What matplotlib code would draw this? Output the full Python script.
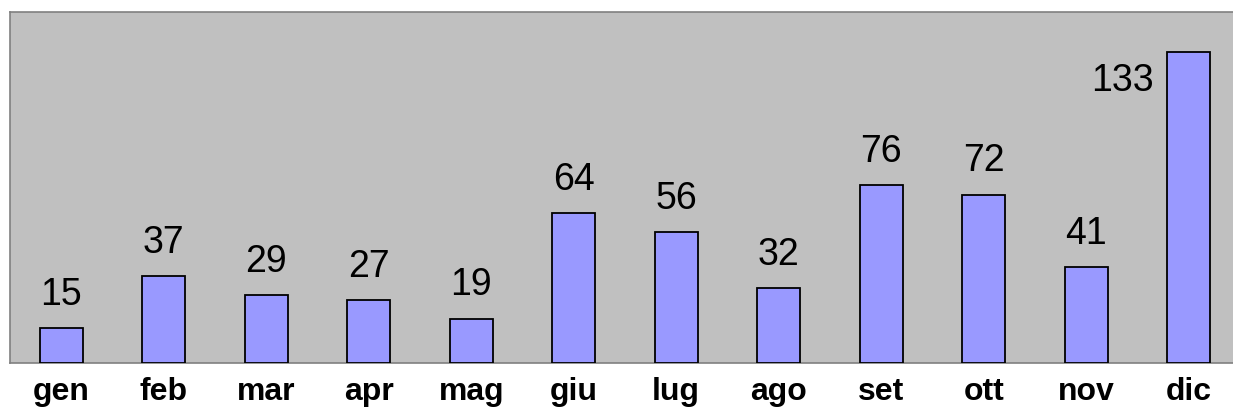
import numpy as np
import matplotlib.pyplot as plt

months = ["gen", "feb", "mar", "apr", "mag", "giu", "lug", "ago", "set", "ott", "nov", "dic"]
values = [15, 37, 29, 27, 19, 64, 56, 32, 76, 72, 41, 133]

W, H = 1233, 416

plt.rcParams["font.family"] = ["Liberation Sans", "DejaVu Sans"]

fig = plt.figure(figsize=(W / 100, H / 100), dpi=100)
# plot area runs a little past the right edge, like the original
ax = fig.add_axes([10 / W, (H - 363) / H, 1230 / W, 351 / H])
ax.set_facecolor("#C0C0C0")

x = np.arange(len(months))
bars = ax.bar(x, values, width=0.42, color="#9999FF", edgecolor="black", linewidth=1.3, zorder=3)

ax.set_xlim(-0.5, len(months) - 0.5)
ax.set_ylim(0, 150)

for i, (b, v) in enumerate(zip(bars, values)):
    if i == len(values) - 1:
        # tallest bar: label sits to the left of the bar
        ax.annotate(str(v), (b.get_x(), v), xytext=(-10, -21), textcoords="offset points",
                    ha="right", va="center", fontsize=27)
    else:
        ax.annotate(str(v), (b.get_x() + b.get_width() / 2, v), xytext=(0, 11),
                    textcoords="offset points", ha="center", va="bottom", fontsize=27)

ax.set_xticks(x)
ax.set_xticklabels(months, fontsize=23, fontweight="bold")
ax.tick_params(axis="x", length=0, pad=10)
ax.set_yticks([])

for s in ax.spines.values():
    s.set_color("#808080")
    s.set_linewidth(1.2)

fig.savefig("out.png", dpi=100)
